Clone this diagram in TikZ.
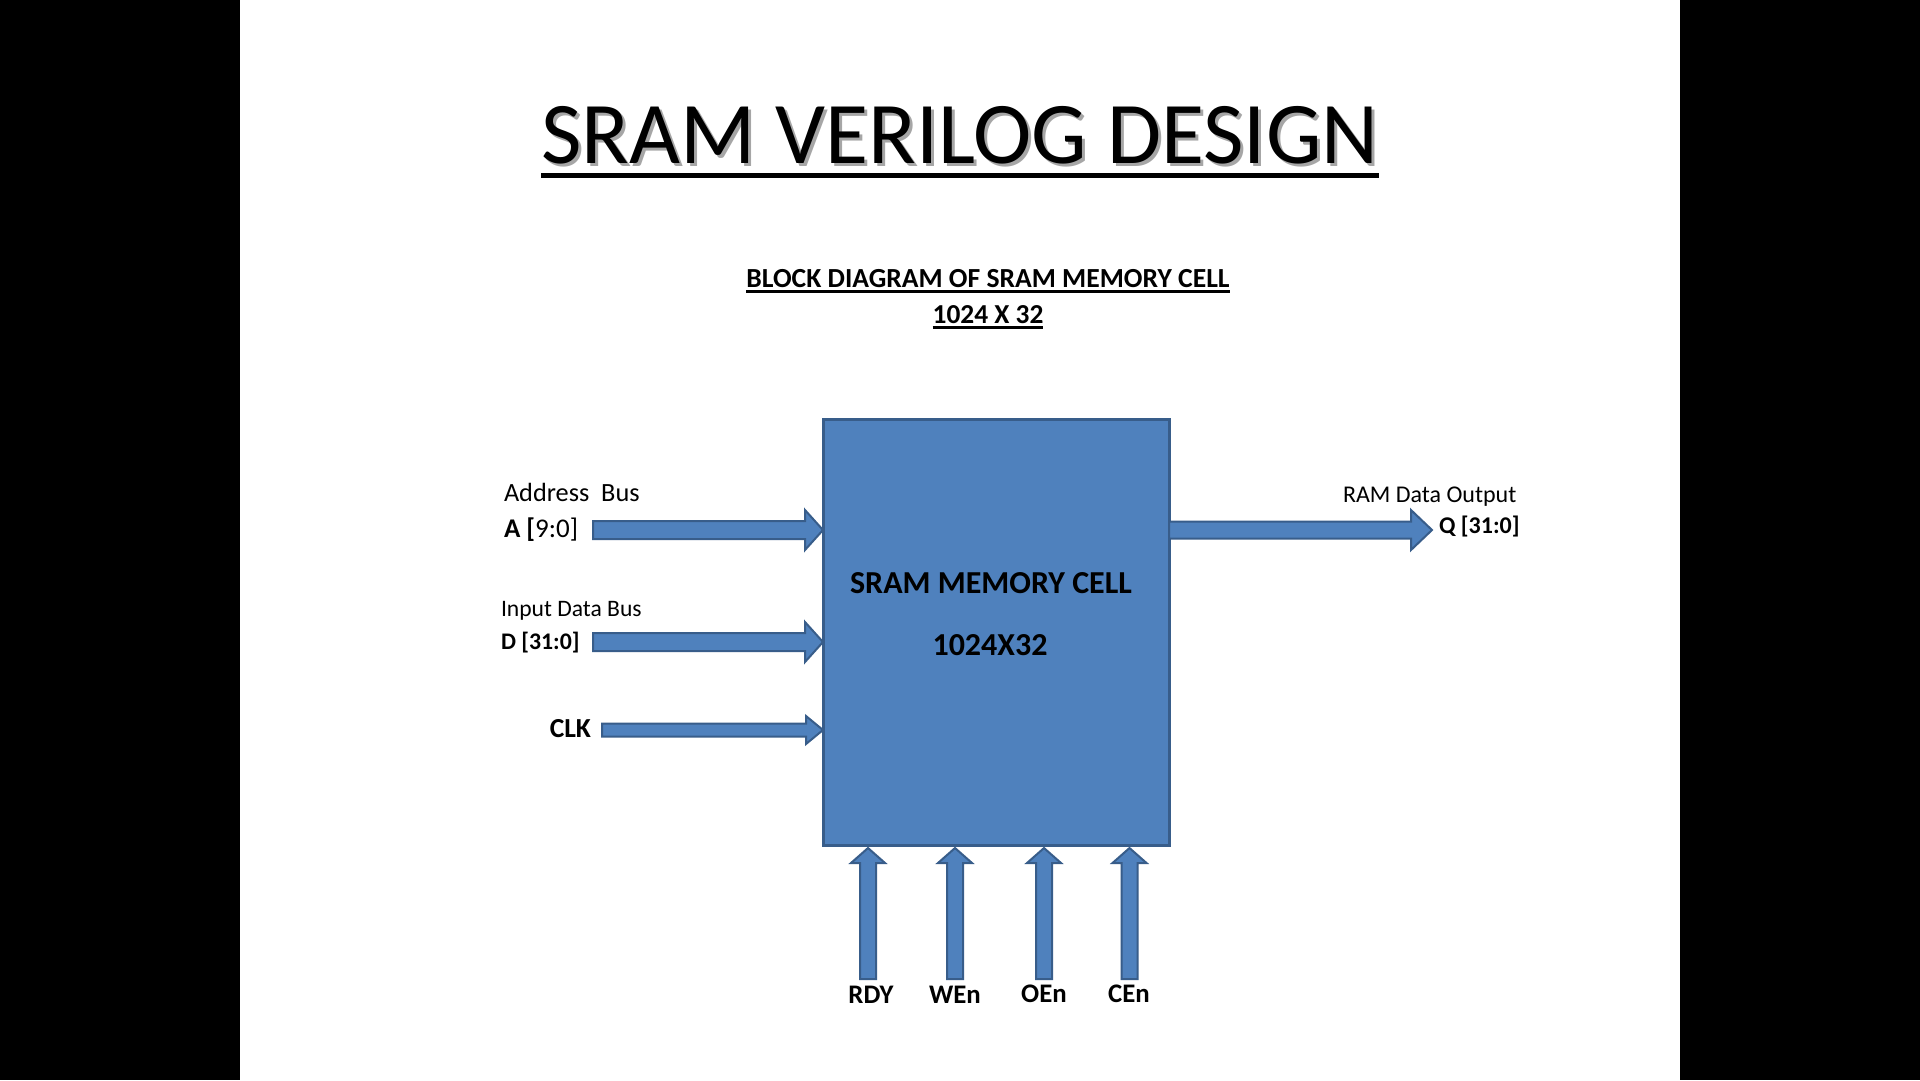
\documentclass[tikz,border=0pt]{standalone}
\usepackage{fontspec}
\setmainfont{Carlito}
\usetikzlibrary{calc}
\definecolor{cellblue}{HTML}{4F81BD}
\definecolor{cellline}{HTML}{385D8A}
\newcommand\pxfont[1]{\fontsize{#1}{#1}\selectfont}
% horizontal block arrow: from, to, shaft half, head half, head length
\newcommand\harrow[5]{\draw[blockarrow] let \p1=(#1), \p2=(#2) in
  (\x1,\y1+#3) -- (\x2-#5,\y1+#3) -- (\x2-#5,\y1+#4) -- (\x2,\y1) --
  (\x2-#5,\y1-#4) -- (\x2-#5,\y1-#3) -- (\x1,\y1-#3) -- cycle;}
% vertical (upward) block arrow
\newcommand\uarrow[5]{\draw[blockarrow] let \p1=(#1), \p2=(#2) in
  (\x1-#3,\y1) -- (\x1-#3,\y2-#5) -- (\x1-#4,\y2-#5) -- (\x1,\y2) --
  (\x1+#4,\y2-#5) -- (\x1+#3,\y2-#5) -- (\x1+#3,\y1) -- cycle;}
\tikzset{
  blockarrow/.style={fill=cellblue, draw=cellline, line width=2pt, line join=miter},
  cellbox/.style={fill=cellblue, draw=cellline, line width=3pt, inner sep=0pt, outer sep=0pt},
  lbl/.style={inner sep=0pt, outer sep=0pt, text=black},
}
\begin{document}
\begin{tikzpicture}[x=1pt,y=-1pt]
\useasboundingbox (0,0) rectangle (1920,1080);
\fill[white] (0,0) rectangle (1920,1080);
\fill[black] (0,0) rectangle (240,1080);
\fill[black] (1680,0) rectangle (1920,1080);

% title with shadow
\node[lbl, anchor=base, text=black!35] at (963,166) {\pxfont{88}SRAM VERILOG DESIGN};
\node[lbl, anchor=base] (title) at (960,163) {\pxfont{88}SRAM VERILOG DESIGN};
\draw[line width=5pt] ([yshift=-12pt]title.base west) -- ([yshift=-12pt]title.base east);

% subtitle
\node[lbl, anchor=base] (sub1) at (988,287) {\pxfont{27.6}\bfseries BLOCK DIAGRAM OF SRAM MEMORY CELL};
\draw[line width=2.5pt] ([yshift=-4.5pt]sub1.base west) -- ([yshift=-4.5pt]sub1.base east);
\node[lbl, anchor=base] (sub2) at (988,323) {\pxfont{27.4}\bfseries 1024 X 32};
\draw[line width=2.5pt] ([yshift=-4.5pt]sub2.base west) -- ([yshift=-4.5pt]sub2.base east);

% memory cell
\node[cellbox, minimum width=346pt, minimum height=426pt] (cell) at (996,632) {};
\node[lbl, anchor=base] (celltxt1) at (991,593) {\pxfont{32}\bfseries SRAM MEMORY CELL};
\node[lbl, anchor=base] (celltxt2) at (990,655) {\pxfont{32}\bfseries 1024X32};

% left labels
\node[lbl, anchor=base west] (abus) at (504,501) {\pxfont{26.3}Address\ \ Bus};
\node[lbl, anchor=base west] (alab) at (504,537) {\pxfont{27}\textbf{A [}9:0]};
\node[lbl, anchor=base west] (dbus) at (501,616) {\pxfont{23.6}Input Data Bus};
\node[lbl, anchor=base west] (dlab) at (501,649) {\pxfont{23.8}\bfseries D [31:0]};
\node[lbl, anchor=base east] (clklab) at (591,737) {\pxfont{27.5}\bfseries CLK};

% right labels
\node[lbl, anchor=base west] (qbus) at (1343,502) {\pxfont{24}RAM Data Output};
\node[lbl, anchor=base west] (qlab) at (1439,533) {\pxfont{24}\bfseries Q [31:0]};

% bottom labels
\node[lbl, anchor=base] (rdy) at (871,1003) {\pxfont{26.8}\bfseries RDY};
\node[lbl, anchor=base] (wen) at (955,1003) {\pxfont{26.8}\bfseries WEn};
\node[lbl, anchor=base] (oen) at (1044,1002) {\pxfont{26.8}\bfseries OEn};
\node[lbl, anchor=base] (cen) at (1129,1002) {\pxfont{26.8}\bfseries CEn};

% arrow ends
\coordinate (aS) at (593,530);
\coordinate (dS) at (593,642);
\coordinate (cS) at (602,730);
\coordinate (qE) at (1432,530);
\coordinate (rS) at (868,979);
\coordinate (wS) at (955,979);
\coordinate (oS) at (1044,979);
\coordinate (eS) at (1129.5,979);

% connectors
\harrow{aS}{aS -| cell.west}{9pt}{20pt}{18pt}
\harrow{dS}{dS -| cell.west}{9pt}{20pt}{18pt}
\harrow{cS}{cS -| cell.west}{6.5pt}{14pt}{17pt}
\harrow{qE -| cell.east}{qE}{8.5pt}{20pt}{21pt}
\uarrow{rS}{[yshift=-3pt]rS |- cell.south}{8pt}{17pt}{15pt}
\uarrow{wS}{[yshift=-3pt]wS |- cell.south}{8pt}{17pt}{15pt}
\uarrow{oS}{[yshift=-3pt]oS |- cell.south}{8pt}{17pt}{15pt}
\uarrow{eS}{[yshift=-3pt]eS |- cell.south}{8pt}{17pt}{15pt}
\end{tikzpicture}
\end{document}
